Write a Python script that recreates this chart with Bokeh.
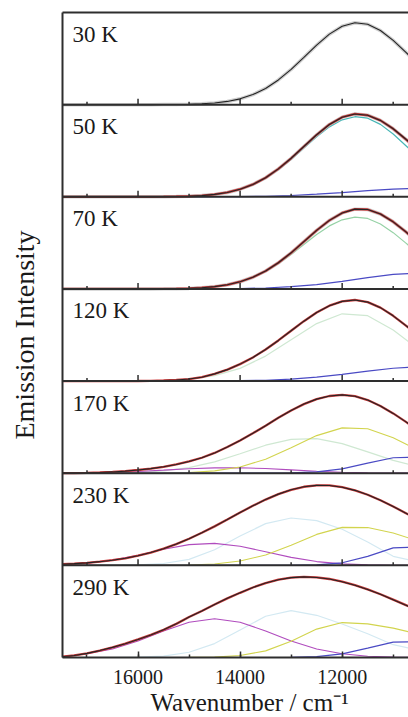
import math
from bokeh.plotting import figure
from bokeh.models import Range1d, LinearAxis, SingleIntervalTicker, FixedTicker, Span, Title
from bokeh.embed import file_html
from bokeh.resources import INLINE
from bokeh.core.properties import value

# ---------------- data ----------------
TEMPS = ["30 K", "50 K", "70 K", "120 K", "170 K", "230 K", "290 K"]

# fine wavenumber grid (cm-1) for measured/fitted spectra
XF = [17500, 17250, 17000, 16750, 16500, 16250, 16000, 15750, 15500, 15250,
      15000, 14750, 14500, 14250, 14000, 13750, 13500, 13250, 13000, 12750,
      12500, 12250, 12000, 11750, 11500, 11250, 11000, 10750, 10500]
# coarse grid for the fit components
XC = [17500, 17000, 16500, 16000, 15500, 15000, 14500, 14000, 13500, 13000,
      12500, 12000, 11500, 11000, 10500]

# spectra (normalised intensity per panel)
SPEC_30K = [0, 0, 0, 0, 0, 0, 0, 0.000, 0.001, 0.002, 0.004, 0.009, 0.018, 0.035, 0.063,
            0.109, 0.176, 0.268, 0.382, 0.513, 0.646, 0.765, 0.851, 0.889, 0.872,
            0.804, 0.697, 0.567, 0.433]
SPEC_50K = [0, 0, 0, 0, 0, 0, 0, 0.000, 0.001, 0.003, 0.006, 0.013, 0.026, 0.047, 0.082,
            0.134, 0.207, 0.303, 0.418, 0.546, 0.673, 0.785, 0.864, 0.899, 0.885,
            0.829, 0.738, 0.624, 0.502]
SPEC_70K = [0, 0, 0, 0, 0, 0, 0, 0, 0.001, 0.003, 0.006, 0.013, 0.025, 0.045, 0.078,
            0.127, 0.195, 0.284, 0.392, 0.513, 0.635, 0.744, 0.825, 0.866, 0.862,
            0.813, 0.728, 0.619, 0.499]
SPEC_120K = [0, 0, 0, 0, 0.000, 0.000, 0.001, 0.003, 0.006, 0.012, 0.022, 0.042, 0.078,
             0.124, 0.184, 0.256, 0.343, 0.441, 0.546, 0.650, 0.744, 0.818, 0.865,
             0.880, 0.857, 0.797, 0.708, 0.602, 0.488]
SPEC_170K = [0.001, 0.002, 0.004, 0.008, 0.014, 0.023, 0.035, 0.050, 0.070, 0.095,
             0.128, 0.168, 0.220, 0.284, 0.355, 0.434, 0.516, 0.601, 0.681, 0.750,
             0.804, 0.838, 0.850, 0.836, 0.794, 0.730, 0.649, 0.557, 0.463]
SPEC_230K = [0.012, 0.019, 0.027, 0.040, 0.056, 0.077, 0.105, 0.139, 0.181, 0.231,
             0.289, 0.353, 0.423, 0.497, 0.573, 0.646, 0.714, 0.773, 0.820, 0.853,
             0.868, 0.867, 0.848, 0.814, 0.766, 0.706, 0.639, 0.566, 0.492]
SPEC_290K = [0.008, 0.022, 0.045, 0.075, 0.110, 0.150, 0.196, 0.245, 0.300, 0.365,
             0.440, 0.505, 0.575, 0.642, 0.702, 0.760, 0.808, 0.844, 0.867, 0.875,
             0.869, 0.852, 0.823, 0.785, 0.739, 0.686, 0.628, 0.568, 0.506]

# main band of the low-temperature fits (fine grid)
MAIN_50K = [0, 0, 0, 0, 0, 0, 0, 0.000, 0.001, 0.003, 0.006, 0.013, 0.025, 0.045, 0.079,
            0.129, 0.200, 0.293, 0.404, 0.528, 0.651, 0.759, 0.835, 0.869, 0.853,
            0.786, 0.681, 0.554, 0.424]
MAIN_70K = [0, 0, 0, 0, 0, 0, 0, 0.000, 0.001, 0.003, 0.007, 0.013, 0.025, 0.046, 0.077,
            0.124, 0.189, 0.273, 0.373, 0.482, 0.590, 0.684, 0.750, 0.779, 0.765,
            0.705, 0.611, 0.497, 0.380]

# fit components (coarse grid)
MAIN_120K = [0, 0, 0, 0.002, 0.006, 0.021, 0.059, 0.138, 0.271, 0.449, 0.624, 0.730, 0.710, 0.554, 0.344]
BAND_170K = [0, 0.001, 0.003, 0.009, 0.025, 0.060, 0.123, 0.211, 0.304, 0.368, 0.375, 0.321, 0.231, 0.139, 0.071]
BAND_230K = [0, 0, 0, 0.005, 0.020, 0.065, 0.169, 0.318, 0.453, 0.514, 0.486, 0.392, 0.253, 0.098, 0.035]
BAND_290K = [0, 0, 0, 0.003, 0.015, 0.057, 0.151, 0.299, 0.448, 0.509, 0.458, 0.364, 0.258, 0.139, 0.079]

HIGH_170K = [0.001, 0.004, 0.010, 0.019, 0.033, 0.048, 0.058, 0.059, 0.051, 0.036, 0.022, 0.011, 0.005, 0.002, 0.001]
HIGH_230K = [0.008, 0.024, 0.057, 0.110, 0.174, 0.225, 0.239, 0.208, 0.148, 0.087, 0.041, 0.016, 0.005, 0.001, 0.000]
HIGH_290K = [0.006, 0.040, 0.093, 0.179, 0.288, 0.382, 0.420, 0.382, 0.288, 0.179, 0.093, 0.040, 0.014, 0.004, 0.001]

MID_170K = [0, 0, 0, 0, 0.002, 0.007, 0.025, 0.068, 0.152, 0.276, 0.408, 0.492, 0.482, 0.384, 0.249]
MID_230K = [0, 0, 0, 0, 0.001, 0.004, 0.015, 0.047, 0.113, 0.219, 0.336, 0.412, 0.410, 0.351, 0.262]
MID_290K = [0, 0, 0, 0, 0, 0.001, 0.004, 0.021, 0.072, 0.177, 0.308, 0.379, 0.365, 0.319, 0.252]

LOW_50K = [0, 0, 0, 0, 0, 0, 0.001, 0.002, 0.006, 0.014, 0.028, 0.046, 0.067, 0.084, 0.090]
LOW_70K = [0, 0, 0, 0, 0, 0, 0.001, 0.004, 0.010, 0.024, 0.047, 0.082, 0.122, 0.157, 0.174]
LOW_120K = [0, 0, 0, 0, 0, 0, 0.001, 0.004, 0.009, 0.021, 0.042, 0.073, 0.108, 0.139, 0.154]
LOW_170K = [0, 0, 0, 0, 0, 0, 0, 0, 0, 0.003, 0.014, 0.048, 0.109, 0.168, 0.175]
LOW_230K = [0, 0, 0, 0, 0, 0, 0, 0, 0, 0, 0.005, 0.028, 0.098, 0.189, 0.200]
LOW_290K = [0, 0, 0, 0, 0, 0, 0, 0, 0, 0.002, 0.010, 0.040, 0.102, 0.166, 0.174]

MAJOR_TICKS = [16000, 14000, 12000]
MINOR_TICKS = [17000, 15000, 13000, 11000]
X_START, X_END = 17480, 10700      # visible part of the wavenumber axis

# ---------------- styles ----------------
FONT = "Liberation Serif"
FRAME = "#2e2e2e"
BLACK = "#242424"
RED = "#cc3a3a"
GRAY = "#c2c2c2"
CYAN = "#48b6b6"
GREEN = "#96d2a6"
BLUE = "#4a4ac4"
PURPLE = "#b04cbe"
YELLOW = "#d2d44e"
LIGHT = "#d3e9f2"
FAINT = "#cfe8d2"
TEXT = "#1a1a1a"

panels = [
    dict(spec=SPEC_30K, data=True, fit=False, comps=[]),
    dict(spec=SPEC_50K, data=True, fit=True,
         comps=[(XF, MAIN_50K, CYAN, 1.2), (XC, LOW_50K, BLUE, 1.2)]),
    dict(spec=SPEC_70K, data=True, fit=True,
         comps=[(XF, MAIN_70K, GREEN, 1.2), (XC, LOW_70K, BLUE, 1.2)]),
    dict(spec=SPEC_120K, data=False, fit=True,
         comps=[(XC, MAIN_120K, FAINT, 1.2), (XC, LOW_120K, BLUE, 1.2)]),
    dict(spec=SPEC_170K, data=False, fit=True,
         comps=[(XC, BAND_170K, FAINT, 1.2), (XC, HIGH_170K, PURPLE, 1.1),
                (XC, MID_170K, YELLOW, 1.1), (XC, LOW_170K, BLUE, 1.2)]),
    dict(spec=SPEC_230K, data=False, fit=True,
         comps=[(XC, BAND_230K, LIGHT, 1.2), (XC, HIGH_230K, PURPLE, 1.1),
                (XC, MID_230K, YELLOW, 1.1), (XC, LOW_230K, BLUE, 1.2)]),
    dict(spec=SPEC_290K, data=False, fit=True,
         comps=[(XC, BAND_290K, LIGHT, 1.2), (XC, HIGH_290K, PURPLE, 1.1),
                (XC, MID_290K, YELLOW, 1.1), (XC, LOW_290K, BLUE, 1.2)]),
]
N = len(panels)

p = figure(width=408, height=717, output_backend="svg", toolbar_location=None,
           x_range=Range1d(X_START, X_END), y_range=Range1d(0, N),
           min_border_left=62, min_border_right=0, min_border_top=12,
           min_border_bottom=60)
p.outline_line_color = None
p.grid.visible = False
p.background_fill_color = "white"

# one y-range per panel, stacked from the top
for i in range(N):
    b = N - 1 - i
    p.extra_y_ranges[f"p{i}"] = Range1d(-b, N - b)

for i, pan in enumerate(panels):
    rn = f"p{i}"
    for xs, ys, col, w in pan["comps"]:
        p.line(xs, ys, line_color=col, line_width=w, y_range_name=rn)
    if pan["data"]:
        p.line(XF, pan["spec"], line_color=GRAY, line_width=3.5, line_alpha=0.8, y_range_name=rn)
    if pan["fit"]:
        p.line(XF, pan["spec"], line_color=RED, line_width=2.3, y_range_name=rn)
    p.line(XF, pan["spec"], line_color=BLACK, line_width=1.1, y_range_name=rn)
    p.text(x=[X_START], y=[1], text=[TEMPS[i]], y_range_name=rn,
           x_offset=10, y_offset=22, text_baseline="alphabetic", text_align="left",
           text_font=value(FONT), text_font_size="23px", text_color=TEXT)
    if i < N - 1:
        p.ray(x=MAJOR_TICKS, y=[0] * len(MAJOR_TICKS), length=6, length_units="screen",
              angle=math.pi / 2, line_color=FRAME, line_width=1.5, y_range_name=rn)
        p.ray(x=MINOR_TICKS, y=[0] * len(MINOR_TICKS), length=3, length_units="screen",
              angle=math.pi / 2, line_color=FRAME, line_width=1.5, y_range_name=rn)
        p.add_layout(Span(location=0, dimension="width", y_range_name=rn,
                          line_color=FRAME, line_width=2))

# bottom axis
xa = p.below[0]
xa.ticker = SingleIntervalTicker(interval=2000, num_minor_ticks=2)
xa.major_tick_in = 6
xa.major_tick_out = 0
xa.minor_tick_in = 3
xa.minor_tick_out = 0
xa.major_tick_line_color = FRAME
xa.minor_tick_line_color = FRAME
xa.major_tick_line_width = 1.5
xa.minor_tick_line_width = 1.5
xa.axis_line_color = FRAME
xa.axis_line_width = 2
xa.major_label_text_font = FONT
xa.major_label_text_font_size = "20px"
xa.major_label_text_color = TEXT
xa.major_label_standoff = 12

# x title; the original axis continues past the crop, so its title sits right of centre
xtitle = Title(text="Wavenumber / cm\u207b\u00b9", align="left", offset=88,
               text_font=FONT, text_font_size="25px", text_font_style="normal",
               text_color=TEXT, standoff=0)
p.add_layout(xtitle, "below")

# left axis: only the frame line and the title
ya = p.left[0]
ya.ticker = FixedTicker(ticks=[])
ya.major_tick_out = 0
ya.major_tick_in = 0
ya.minor_tick_out = 0
ya.axis_line_color = FRAME
ya.axis_line_width = 2
ya.axis_label = "Emission Intensity"
ya.axis_label_text_font = FONT
ya.axis_label_text_font_size = "28px"
ya.axis_label_text_font_style = "normal"
ya.axis_label_text_color = TEXT
ya.axis_label_standoff = 23

# top frame line
top = LinearAxis(ticker=FixedTicker(ticks=[]), axis_line_color=FRAME, axis_line_width=2,
                 major_tick_out=0, major_tick_in=0, minor_tick_out=0,
                 major_label_text_font_size="0px")
p.add_layout(top, "above")

open("out.html", "w").write(file_html(p, INLINE))
